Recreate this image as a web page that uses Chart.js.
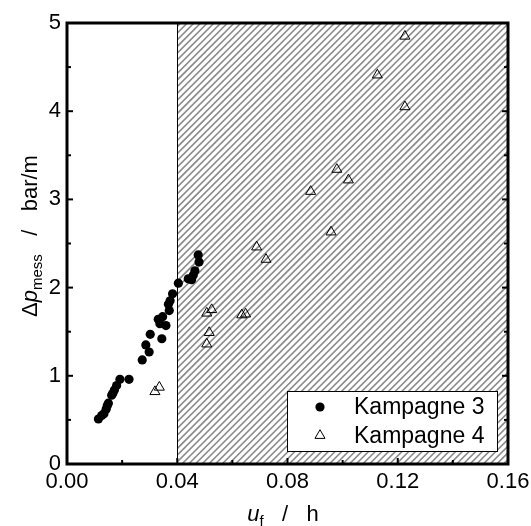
<!DOCTYPE html>
<html>
<head>
<meta charset="utf-8">
<script src="https://cdn.jsdelivr.net/npm/chart.js@4.4.1/dist/chart.umd.min.js"></script>
<style>
html,body{margin:0;padding:0;background:#fff;}
#wrap{width:531px;height:526px;position:relative;}
</style>
</head>
<body>
<div id="wrap"><canvas id="c" width="531" height="526"></canvas></div>
<script>
const k3Label = "Kampagne 3";
const k3X = [0.0114,0.0126,0.0134,0.0142,0.0146,0.0150,0.0162,0.0166,0.0172,0.0180,0.0192,0.0225,0.0273,0.0286,0.0298,0.0302,0.0331,0.0337,0.0344,0.0347,0.0359,0.0368,0.0371,0.0374,0.0383,0.0404,0.0440,0.0452,0.0458,0.0464,0.0476,0.0479];
const k3Y = [0.51,0.55,0.57,0.62,0.66,0.69,0.78,0.80,0.84,0.89,0.96,0.96,1.18,1.35,1.27,1.47,1.64,1.59,1.42,1.67,1.57,1.81,1.74,1.85,1.93,2.05,2.10,2.09,2.14,2.19,2.37,2.29];
const k4Label = "Kampagne 4";
const k4X = [0.0319,0.0335,0.0507,0.0516,0.0507,0.0525,0.0634,0.0648,0.0688,0.0722,0.0884,0.0958,0.0979,0.1021,0.1126,0.1226,0.1226];
const k4Y = [0.82,0.87,1.36,1.49,1.71,1.75,1.69,1.70,2.46,2.32,3.09,2.63,3.34,3.22,4.41,4.05,4.85];
const xTicks = [0.00,0.04,0.08,0.12,0.16];
const yTicks = [0,1,2,3,4,5];
const xMinorTicks = [0.02,0.06,0.10,0.14];
const yMinorTicks = [0.5,1.5,2.5,3.5,4.5];
const hatchStart = 0.04;

const FONT = '"Liberation Sans", Arial, Helvetica, sans-serif';
const toPts = (xs, ys) => xs.map((x, i) => ({x: x, y: ys[i]}));

const overlay = {
  id: 'overlay',
  beforeDatasetsDraw(chart) {
    const {ctx, chartArea: a, scales: {x, y}} = chart;
    const x0 = x.getPixelForValue(hatchStart);
    ctx.save();
    ctx.beginPath();
    ctx.rect(x0, a.top, a.right - x0, a.bottom - a.top);
    ctx.clip();
    ctx.strokeStyle = '#8a8a8a';
    ctx.lineWidth = 1.6;
    const h = a.bottom - a.top;
    const sp = 6.7;
    for (let s = x0 - h - 10; s < a.right + 10; s += sp) {
      ctx.beginPath();
      ctx.moveTo(s, a.bottom);
      ctx.lineTo(s + h, a.top);
      ctx.stroke();
    }
    ctx.restore();
    ctx.save();
    ctx.strokeStyle = '#000';
    ctx.lineWidth = 1;
    ctx.beginPath();
    ctx.moveTo(Math.round(x0) + 0.5, a.top);
    ctx.lineTo(Math.round(x0) + 0.5, a.bottom);
    ctx.stroke();
    ctx.restore();
  },
  afterDraw(chart) {
    const {ctx, chartArea: a, scales: {x, y}} = chart;
    ctx.save();
    ctx.strokeStyle = '#000';
    ctx.lineWidth = 3;
    ctx.strokeRect(a.left, a.top, a.right - a.left, a.bottom - a.top);
    ctx.lineWidth = 2;
    const tk = (x1, y1, x2, y2) => { ctx.beginPath(); ctx.moveTo(x1, y1); ctx.lineTo(x2, y2); ctx.stroke(); };
    yTicks.forEach(v => { const p = y.getPixelForValue(v); tk(a.left, p, a.left + 6, p); tk(a.right, p, a.right - 6, p); });
    yMinorTicks.forEach(v => { const p = y.getPixelForValue(v); tk(a.left, p, a.left + 4, p); tk(a.right, p, a.right - 4, p); });
    xTicks.forEach(v => { const p = x.getPixelForValue(v); tk(p, a.bottom, p, a.bottom - 6); });
    xMinorTicks.forEach(v => { const p = x.getPixelForValue(v); tk(p, a.bottom, p, a.bottom - 4); });

    const lx = 287, ly = 391, lw = 210, lh = 60;
    ctx.fillStyle = '#fff';
    ctx.fillRect(lx, ly, lw, lh);
    ctx.lineWidth = 1;
    ctx.strokeStyle = '#000';
    ctx.strokeRect(lx + 0.5, ly + 0.5, lw, lh);
    ctx.font = '23px ' + FONT;
    ctx.textBaseline = 'middle';
    ctx.textAlign = 'left';
    chart.data.datasets.forEach((ds, i) => {
      const cy = ly + 16 + i * 28.5;
      const cx = lx + 33;
      if (ds.pointStyle === 'circle') {
        ctx.fillStyle = '#000';
        ctx.beginPath(); ctx.arc(cx, cy, ds.pointRadius, 0, Math.PI * 2); ctx.fill();
      } else {
        const r = ds.pointRadius;
        ctx.strokeStyle = '#000'; ctx.lineWidth = 1;
        ctx.beginPath();
        ctx.moveTo(cx, cy - r);
        ctx.lineTo(cx + r * 0.866, cy + r * 0.5);
        ctx.lineTo(cx - r * 0.866, cy + r * 0.5);
        ctx.closePath(); ctx.stroke();
      }
      ctx.fillStyle = '#000';
      ctx.fillText(ds.label, lx + 67, cy + 1);
    });

    ctx.fillStyle = '#000';
    ctx.textBaseline = 'alphabetic';
    const cxT = 283, by = 521;
    const parts = [
      {t: 'u', f: 'italic 22px ' + FONT, dy: 0},
      {t: 'f', f: '15px ' + FONT, dy: 5},
      {t: '   /   ', f: '22px ' + FONT, dy: 0},
      {t: 'h', f: '22px ' + FONT, dy: 0}
    ];
    let tw = 0;
    parts.forEach(p => { ctx.font = p.f; p.w = ctx.measureText(p.t).width; tw += p.w; });
    let px = cxT - tw / 2;
    parts.forEach(p => { ctx.font = p.f; ctx.fillText(p.t, px, by + p.dy); px += p.w; });

    ctx.save();
    ctx.translate(37, 236);
    ctx.rotate(-Math.PI / 2);
    const yparts = [
      {t: '\u0394', f: '22px ' + FONT, dy: 0},
      {t: 'p', f: 'italic 22px ' + FONT, dy: 0},
      {t: 'mess', f: '15px ' + FONT, dy: 5},
      {t: '   /   ', f: '22px ' + FONT, dy: 0},
      {t: 'bar/m', f: '22px ' + FONT, dy: 0}
    ];
    tw = 0;
    yparts.forEach(p => { ctx.font = p.f; p.w = ctx.measureText(p.t).width; tw += p.w; });
    px = -tw / 2;
    yparts.forEach(p => { ctx.font = p.f; ctx.fillText(p.t, px, p.dy); px += p.w; });
    ctx.restore();
    ctx.restore();
  }
};

new Chart(document.getElementById('c'), {
  type: 'scatter',
  data: {
    datasets: [
      {label: k3Label, data: toPts(k3X, k3Y), pointStyle: 'circle', pointRadius: 4.6, pointHoverRadius: 4.6,
       backgroundColor: '#000', borderColor: '#000', borderWidth: 0},
      {label: k4Label, data: toPts(k4X, k4Y), pointStyle: 'triangle', pointRadius: 5.8, pointHoverRadius: 5.8,
       backgroundColor: 'rgba(0,0,0,0)', borderColor: '#000', borderWidth: 1}
    ]
  },
  options: {
    responsive: false,
    animation: false,
    events: [],
    layout: {padding: {left: 0, right: 23, top: 23, bottom: 0}},
    plugins: {legend: {display: false}, tooltip: {enabled: false}},
    scales: {
      x: {
        type: 'linear', min: 0, max: 0.16,
        afterBuildTicks: s => { s.ticks = xTicks.map(v => ({value: v})); },
        afterFit: s => { s.height = 62; s.paddingLeft = 0; s.paddingRight = 0; },
        grid: {display: false, drawTicks: false},
        border: {display: false},
        ticks: {padding: 5, color: '#000', font: {family: FONT, size: 22}, callback: v => Number(v).toFixed(2), maxRotation: 0, autoSkip: false}
      },
      y: {
        type: 'linear', min: 0, max: 5,
        afterBuildTicks: s => { s.ticks = yTicks.map(v => ({value: v})); },
        afterFit: s => { s.width = 67; s.paddingTop = 0; s.paddingBottom = 0; },
        grid: {display: false, drawTicks: false},
        border: {display: false},
        ticks: {padding: 6, color: '#000', font: {family: FONT, size: 22}, callback: v => String(v)}
      }
    }
  },
  plugins: [overlay]
});
</script>
</body>
</html>
